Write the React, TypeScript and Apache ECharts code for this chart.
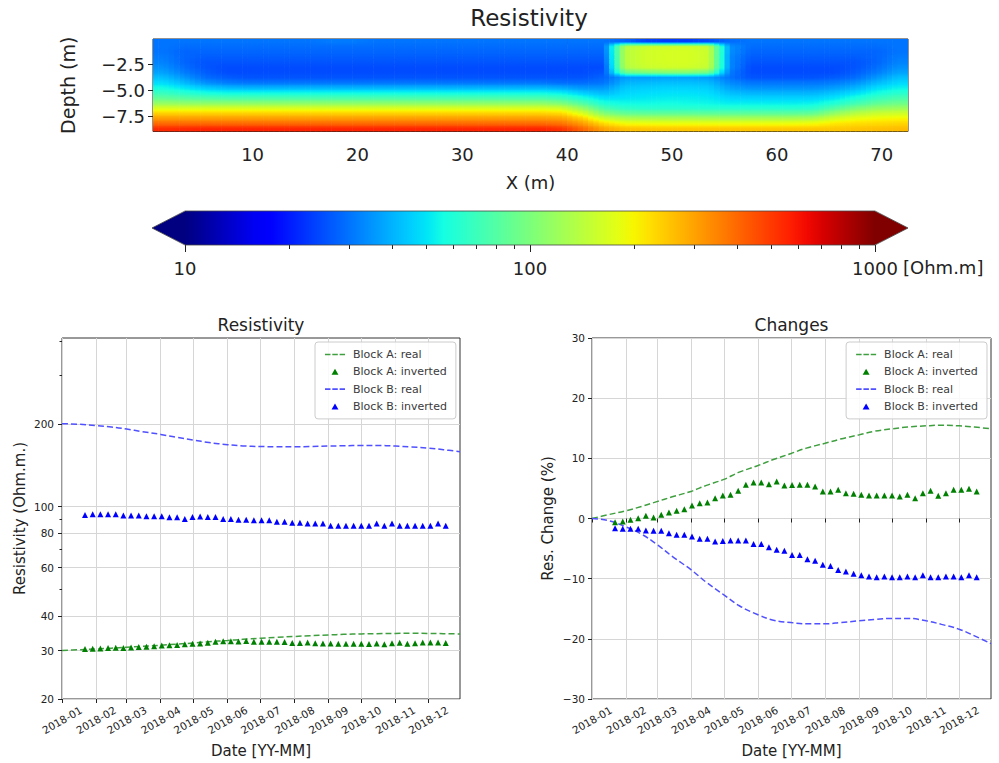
import React, { useEffect, useRef } from 'react';
import * as echarts from 'echarts';

// ---------------- data: top panel (resistivity section) ----------------
const SECTION_X = [1.5, 3.5, 5.5, 7.5, 9.5, 11.5, 13.5, 15.5, 17.5, 19.5, 21.5, 23.5, 25.5, 27.5, 29.5, 31.5, 33.5, 35.5,
  37.5, 39.5, 41.5, 43.5, 45.5, 47.5, 49.5, 51.5, 53.5, 55.5, 57.5, 59.5, 61.5, 63.5, 65.5, 67.5, 69.5, 71.5];
const SECTION_DEPTH = [-0.25, -0.75, -1.25, -1.75, -2.25, -2.75, -3.25, -3.75, -4.25, -4.75, -5.25, -5.75, -6.25, -6.75,
  -7.25, -7.75, -8.25, -8.75];
// one column (surface -> bottom) per SECTION_X entry, Ohm.m
const SECTION_RES: number[][] = [
  [30, 30, 30, 31, 32, 34, 37, 42, 48, 56, 68, 85, 115, 170, 240, 310, 400, 540],
  [30, 29, 28, 28, 28, 29, 31, 35, 41, 50, 62, 80, 112, 170, 240, 310, 400, 550],
  [30, 29, 28, 27, 26, 26, 27, 29, 34, 44, 57, 77, 110, 170, 240, 310, 400, 560],
  [30, 29, 28, 27, 26, 25, 25, 27, 31, 41, 55, 75, 110, 170, 240, 310, 400, 560],
  [30, 29, 28, 27, 26, 25, 25, 26, 30, 40, 55, 75, 110, 170, 240, 310, 400, 560],
  [30, 29, 28, 27, 26, 25, 25, 26, 30, 40, 55, 75, 110, 170, 240, 310, 400, 560],
  [30, 29, 28, 27, 26, 25, 25, 26, 30, 40, 55, 75, 110, 170, 240, 310, 400, 560],
  [30, 29, 28, 27, 26, 25, 25, 26, 30, 40, 55, 75, 110, 170, 240, 310, 400, 560],
  [31, 29, 28, 27, 26, 25, 25, 26, 30, 40, 55, 75, 110, 170, 240, 310, 400, 560],
  [31, 29, 28, 27, 26, 25, 25, 26, 30, 40, 55, 75, 110, 170, 240, 310, 400, 560],
  [30, 29, 28, 27, 26, 25, 25, 26, 30, 40, 55, 75, 110, 170, 240, 310, 400, 560],
  [30, 29, 28, 27, 26, 25, 25, 26, 30, 40, 55, 75, 110, 170, 240, 310, 400, 560],
  [30, 29, 28, 27, 26, 25, 25, 26, 30, 40, 55, 75, 110, 170, 240, 310, 400, 560],
  [30, 29, 28, 27, 26, 25, 25, 26, 30, 40, 55, 75, 110, 170, 240, 310, 400, 560],
  [30, 29, 28, 27, 26, 25, 25, 26, 30, 40, 55, 75, 110, 170, 240, 310, 400, 560],
  [30, 29, 28, 27, 26, 25, 25, 26, 30, 40, 55, 75, 110, 170, 240, 310, 400, 560],
  [30, 29, 28, 27, 26, 25, 25, 26, 30, 40, 55, 75, 110, 170, 240, 310, 400, 560],
  [30, 29, 28, 27, 26, 25, 25, 26, 30, 40, 55, 75, 110, 170, 240, 310, 400, 560],
  [30, 29, 28, 27, 26, 25, 25, 26, 30, 40, 55, 75, 110, 170, 240, 310, 400, 560],
  [30, 29, 28, 27, 26, 25, 25, 26, 29, 38, 52, 70, 100, 160, 230, 300, 380, 520],
  [30, 29, 28, 27, 26, 25, 25, 26, 29, 35, 45, 58, 78, 115, 170, 240, 310, 400],
  [30, 29, 28, 27, 26, 25, 26, 28, 30, 35, 41, 49, 58, 75, 105, 160, 230, 300],
  [28, 135, 140, 140, 140, 135, 90, 36, 40, 44, 47, 50, 55, 65, 88, 135, 195, 260],
  [24, 155, 160, 160, 160, 155, 100, 36, 41, 45, 48, 51, 55, 63, 86, 132, 192, 255],
  [23, 160, 165, 165, 165, 160, 105, 37, 42, 46, 49, 52, 56, 63, 86, 132, 190, 250],
  [23, 160, 165, 165, 165, 160, 105, 37, 42, 46, 49, 52, 55, 63, 86, 132, 190, 250],
  [25, 150, 155, 155, 155, 150, 95, 36, 41, 45, 48, 51, 54, 62, 85, 130, 190, 250],
  [29, 34, 34, 33, 33, 33, 31, 30, 33, 37, 42, 47, 52, 62, 85, 130, 190, 250],
  [30, 29, 28, 27, 26, 25, 25, 26, 30, 34, 40, 46, 52, 62, 85, 130, 190, 250],
  [30, 29, 28, 27, 26, 25, 25, 26, 30, 34, 40, 46, 52, 62, 85, 130, 190, 250],
  [30, 29, 28, 27, 26, 25, 25, 26, 30, 34, 40, 46, 52, 62, 85, 130, 190, 250],
  [30, 29, 28, 27, 26, 25, 25, 26, 30, 34, 40, 46, 53, 64, 88, 135, 195, 250],
  [30, 29, 28, 27, 26, 25, 25, 27, 31, 36, 43, 50, 60, 80, 115, 165, 215, 250],
  [30, 29, 28, 27, 26, 26, 27, 29, 34, 40, 48, 58, 72, 100, 140, 185, 225, 255],
  [30, 29, 28, 28, 28, 29, 31, 35, 41, 48, 56, 68, 85, 115, 155, 195, 230, 260],
  [30, 30, 30, 31, 32, 34, 37, 42, 47, 53, 62, 75, 92, 120, 160, 200, 235, 265],
];
const SECTION_X_TICKS = [10, 20, 30, 40, 50, 60, 70];
const SECTION_DEPTH_TICKS = [-7.5, -5, -2.5];
const CBAR_MAJOR = [10, 100, 1000];
const CBAR_MINOR = [20, 30, 40, 50, 60, 70, 80, 90, 200, 300, 400, 500, 600, 700, 800, 900];

// ---------------- data: bottom panels ----------------
const MONTH_TICKS = ['2018-01-01', '2018-02-01', '2018-03-01', '2018-04-01', '2018-05-01', '2018-06-01',
  '2018-07-01', '2018-08-01', '2018-09-01', '2018-10-01', '2018-11-01', '2018-12-01'];
const RES_TICKS_LABELED = [20, 30, 40, 60, 80, 100, 200];
const RES_TICKS_MINOR = [50, 70, 90, 300, 400];
const CHANGE_TICKS_MIN = -30;
const CHANGE_TICKS_MAX = 30;

const REAL_DATES = ['2018-01-01', '2018-01-15', '2018-02-01', '2018-02-15', '2018-03-01', '2018-03-15', '2018-04-01',
  '2018-04-15', '2018-05-01', '2018-05-15', '2018-06-01', '2018-06-15', '2018-07-01', '2018-07-15', '2018-08-01',
  '2018-08-15', '2018-09-01', '2018-09-15', '2018-10-01', '2018-10-15', '2018-11-01', '2018-11-15', '2018-12-01',
  '2018-12-15', '2018-12-30'];
const A_REAL_RES = [30.0, 30.18, 30.39, 30.6, 30.84, 31.08, 31.35, 31.65, 31.95, 32.31, 32.64, 32.94, 33.24, 33.51,
  33.75, 33.96, 34.17, 34.35, 34.47, 34.56, 34.62, 34.65, 34.62, 34.56, 34.47];
const B_REAL_RES = [200, 199.4, 197.2, 194.8, 191.4, 187.4, 183.0, 178.8, 174.6, 171.0, 168.0, 166.2, 165.4, 165.0,
  165.0, 165.4, 166.0, 166.4, 166.8, 166.8, 166.0, 164.8, 163.2, 161.0, 158.4];
const A_REAL_CHANGE = [0, 0.6, 1.3, 2.0, 2.8, 3.6, 4.5, 5.5, 6.5, 7.7, 8.8, 9.8, 10.8, 11.7, 12.5, 13.2, 13.9, 14.5,
  14.9, 15.2, 15.4, 15.5, 15.4, 15.2, 14.9];
const B_REAL_CHANGE = [0, -0.3, -1.4, -2.6, -4.3, -6.3, -8.5, -10.6, -12.7, -14.5, -16.0, -16.9, -17.3, -17.5, -17.5,
  -17.3, -17.0, -16.8, -16.6, -16.6, -17.0, -17.6, -18.4, -19.5, -20.8];

const INV_DATES = ['2018-01-22', '2018-01-29', '2018-02-05', '2018-02-12', '2018-02-19', '2018-02-26', '2018-03-05',
  '2018-03-12', '2018-03-19', '2018-03-26', '2018-04-02', '2018-04-09', '2018-04-16', '2018-04-23', '2018-04-30',
  '2018-05-07', '2018-05-14', '2018-05-21', '2018-05-28', '2018-06-04', '2018-06-11', '2018-06-18', '2018-06-25',
  '2018-07-02', '2018-07-09', '2018-07-16', '2018-07-23', '2018-07-30', '2018-08-06', '2018-08-13', '2018-08-20',
  '2018-08-27', '2018-09-03', '2018-09-10', '2018-09-17', '2018-09-24', '2018-10-01', '2018-10-08', '2018-10-15',
  '2018-10-22', '2018-10-29', '2018-11-05', '2018-11-12', '2018-11-19', '2018-11-26', '2018-12-03', '2018-12-10',
  '2018-12-17'];
const A_INV_RES = [30.41, 30.45, 30.53, 30.62, 30.73, 30.65, 30.79, 30.90, 30.99, 31.07, 31.26, 31.38, 31.41, 31.63,
  31.77, 31.80, 32.01, 32.31, 32.43, 32.43, 32.35, 32.48, 32.28, 32.30, 32.31, 32.31, 32.23, 31.97, 31.97, 32.06,
  31.89, 31.85, 31.80, 31.77, 31.77, 31.77, 31.77, 31.72, 31.80, 31.63, 31.89, 32.01, 31.75, 31.89, 32.06, 32.06,
  32.11, 31.97];
const B_INV_RES = [93.3, 93.8, 93.8, 93.8, 93.8, 92.8, 92.8, 92.8, 92.3, 92.3, 92.3, 91.5, 91.5, 90.2, 91.7, 92.0,
  91.7, 91.7, 90.2, 90.2, 89.7, 89.7, 89.2, 89.2, 89.2, 88.2, 88.2, 87.3, 87.3, 86.8, 86.8, 86.8, 85.3, 85.3, 85.3,
  85.3, 85.3, 85.3, 86.8, 85.3, 86.8, 85.3, 85.3, 85.3, 85.3, 85.3, 86.8, 85.3];
const A_INV_CHANGE = [-0.61, -0.5, -0.22, 0.05, 0.44, 0.16, 0.61, 0.99, 1.27, 1.55, 2.16, 2.55, 2.66, 3.38, 3.82, 3.93,
  4.6, 5.6, 5.98, 5.98, 5.71, 6.15, 5.49, 5.55, 5.6, 5.6, 5.32, 4.49, 4.49, 4.77, 4.21, 4.1, 3.93, 3.82, 3.82, 3.82,
  3.82, 3.66, 3.93, 3.38, 4.21, 4.6, 3.77, 4.21, 4.77, 4.77, 4.93, 4.49];
const B_INV_CHANGE = [-1.61, -1.72, -1.72, -1.72, -2.0, -2.05, -2.05, -2.44, -2.72, -2.72, -3.0, -3.38, -3.38, -3.83,
  -3.72, -3.66, -3.66, -3.66, -4.22, -4.22, -4.77, -5.21, -5.38, -6.05, -6.05, -6.77, -7.04, -7.7, -7.88, -8.54,
  -8.82, -9.2, -9.45, -9.65, -9.75, -9.65, -9.75, -9.75, -9.65, -9.75, -9.45, -9.75, -9.75, -9.65, -9.65, -9.75,
  -9.45, -9.75];

const NAMES = ['Block A: real', 'Block A: inverted', 'Block B: real', 'Block B: inverted'];

// ---------------- styling helpers ----------------
const FONT = 'DejaVu Sans';
const INK = '#222222';
const GRID_LINE = '#d6d6d6';
const GREEN = '#008000';
const GREEN_LINE = '#3f9f3f';
const BLUE = '#0000ff';
const BLUE_LINE = '#5050ff';
const DASH_ICON = 'path://M0,0H5.5V1.6H0Z M7.3,0H12.8V1.6H7.3Z M14.6,0H20V1.6H14.6Z';
const TRI_ICON = 'path://M5,0L10,8.66L0,8.66Z';
const CELL_W = 2;
const CELL_H = 0.5;
const SUB_STRIPS = [-0.375, -0.125, 0.125, 0.375];

const JET_R = [[0, 0], [0.35, 0], [0.66, 1], [0.89, 1], [1, 0.5]];
const JET_G = [[0, 0], [0.125, 0], [0.375, 1], [0.64, 1], [0.91, 0], [1, 0]];
const JET_B = [[0, 0.5], [0.11, 1], [0.34, 1], [0.65, 0], [1, 0]];
function seg(pts: number[][], t: number) {
  for (let i = 1; i < pts.length; i++) {
    if (t <= pts[i][0]) {
      const [x0, y0] = pts[i - 1];
      const [x1, y1] = pts[i];
      return y0 + ((y1 - y0) * (t - x0)) / (x1 - x0);
    }
  }
  return pts[pts.length - 1][1];
}
function jet(t: number) {
  const u = Math.max(0, Math.min(1, t));
  const c = (v: number) => Math.round(v * 255);
  return `rgb(${c(seg(JET_R, u))},${c(seg(JET_G, u))},${c(seg(JET_B, u))})`;
}
const resToT = (v: number) => (Math.log10(v) - 1) / 2;
const ts = (s: string) => Date.parse(s + 'T00:00:00Z');
const X_MIN = ts('2018-01-01');
const X_MAX = ts('2018-12-30');
const fmtMonth = (v: number) => {
  const d = new Date(v);
  return `${d.getUTCFullYear()}-${String(d.getUTCMonth() + 1).padStart(2, '0')}`;
};
const uminus = (s: string) => s.replace('-', '\u2212');

function dateAxis(gridIndex: number) {
  const ticks = MONTH_TICKS.map(ts);
  return {
    type: 'value',
    gridIndex,
    min: X_MIN,
    max: X_MAX,
    position: 'bottom',
    axisLine: { show: false },
    axisTick: { show: true, length: 4, customValues: ticks, lineStyle: { color: INK, width: 1 } },
    axisLabel: {
      customValues: ticks,
      formatter: fmtMonth,
      rotate: 30,
      align: 'center',
      verticalAlign: 'middle',
      margin: 21,
      fontSize: 10.5,
      color: INK,
      fontFamily: FONT,
    },
    splitLine: { show: true, lineStyle: { color: GRID_LINE, width: 1 } },
    name: 'Date [YY-MM]',
    nameLocation: 'middle',
    nameGap: 44,
    nameMoveOverlap: false,
    nameTextStyle: { fontSize: 15, color: INK, fontFamily: FONT },
  };
}

function legendAt(pos: Record<string, number>) {
  return {
    ...pos,
    orient: 'vertical',
    itemWidth: 20,
    itemHeight: 6,
    itemGap: 4.3,
    padding: [6, 9, 6, 10],
    backgroundColor: 'rgba(255,255,255,0.85)',
    borderColor: '#cccccc',
    borderWidth: 1,
    borderRadius: 3,
    selectedMode: false,
    symbolKeepAspect: true,
    textStyle: { fontSize: 11, lineHeight: 13, color: '#3a3a3a', fontFamily: FONT, padding: [0, 0, 0, 3] },
    data: [
      { name: NAMES[0], icon: DASH_ICON },
      { name: NAMES[1], icon: TRI_ICON },
      { name: NAMES[2], icon: DASH_ICON },
      { name: NAMES[3], icon: TRI_ICON },
    ],
  };
}

function buildOption() {
  const log = Math.log10;
  // cell table for the section: x, depth, resistivity, column index, row index
  const heatData: number[][] = [];
  SECTION_X.forEach((x, i) => {
    SECTION_DEPTH.forEach((d, j) => heatData.push([x, d, SECTION_RES[i][j], i, j]));
  });
  const nCol = SECTION_RES.length;
  const nRow = SECTION_DEPTH.length;
  const cellT = (i: number, j: number) =>
    resToT(SECTION_RES[Math.max(0, Math.min(nCol - 1, i))][Math.max(0, Math.min(nRow - 1, j))]);
  const cbarStops = Array.from({ length: 41 }, (_, k) => ({ offset: k / 40, color: jet(k / 40) }));

  const resLine = (name: string, vals: number[], color: string) => ({
    type: 'line', name, xAxisIndex: 3, yAxisIndex: 2, smooth: 0.4, symbol: 'none', z: 3,
    data: REAL_DATES.map((d, i) => [ts(d), log(vals[i])]),
    lineStyle: { color, width: 1.5, type: [6, 3] }, itemStyle: { color },
  });
  const resPts = (name: string, vals: number[], color: string) => ({
    type: 'scatter', name, xAxisIndex: 3, yAxisIndex: 2, symbol: 'triangle', symbolSize: 6, z: 4,
    data: INV_DATES.map((d, i) => [ts(d), log(vals[i])]),
    itemStyle: { color, opacity: 1 },
  });
  const chgLine = (name: string, vals: number[], color: string) => ({
    type: 'line', name, xAxisIndex: 4, yAxisIndex: 4, smooth: 0.4, symbol: 'none', z: 3,
    data: REAL_DATES.map((d, i) => [ts(d), vals[i]]),
    lineStyle: { color, width: 1.5, type: [6, 3] }, itemStyle: { color },
  });
  const chgPts = (name: string, vals: number[], color: string) => ({
    type: 'scatter', name, xAxisIndex: 4, yAxisIndex: 4, symbol: 'triangle', symbolSize: 6, z: 4,
    data: INV_DATES.map((d, i) => [ts(d), vals[i]]),
    itemStyle: { color, opacity: 1 },
  });

  const frame = { show: true, borderColor: '#333333', borderWidth: 1, backgroundColor: 'transparent', containLabel: false, outerBoundsMode: 'none' };

  return {
    animation: false,
    backgroundColor: '#ffffff',
    textStyle: { fontFamily: FONT },
    title: [
      { text: 'Resistivity', left: 529, top: 6, textAlign: 'center', padding: 0, textStyle: { fontSize: 23, fontWeight: 'normal', color: INK, fontFamily: FONT } },
      { text: 'Resistivity', left: 261, top: 316, textAlign: 'center', padding: 0, textStyle: { fontSize: 17, fontWeight: 'normal', color: INK, fontFamily: FONT } },
      { text: 'Changes', left: 791.5, top: 316, textAlign: 'center', padding: 0, textStyle: { fontSize: 17, fontWeight: 'normal', color: INK, fontFamily: FONT } },
    ],
    legend: [legendAt({ left: 315, top: 342 }), legendAt({ right: 12, top: 342 })],
    grid: [
      { ...frame, left: 153, top: 39, width: 755, height: 92.5, borderColor: '#222222' },
      { ...frame, show: false, left: 185, top: 211, width: 690, height: 34 },
      { ...frame, left: 62, top: 338, width: 398, height: 361 },
      { ...frame, left: 592, top: 338, width: 399, height: 361 },
    ],
    xAxis: [
      {
        type: 'value', gridIndex: 0, min: 0.5, max: 72.5, position: 'bottom',
        axisLine: { show: false },
        axisTick: { length: 5, customValues: SECTION_X_TICKS, lineStyle: { color: INK } },
        axisLabel: { customValues: SECTION_X_TICKS, fontSize: 18, margin: 14, color: INK, fontFamily: FONT },
        splitLine: { show: false },
        name: 'X (m)', nameLocation: 'middle', nameGap: 42, nameMoveOverlap: false,
        nameTextStyle: { fontSize: 18, color: INK, fontFamily: FONT },
      },
      {
        type: 'value', gridIndex: 1, min: 1, max: 3, position: 'bottom',
        axisLine: { show: false },
        axisTick: { length: 7, customValues: CBAR_MAJOR.map(log), lineStyle: { color: INK } },
        axisLabel: {
          customValues: CBAR_MAJOR.map(log), formatter: (v: number) => String(Math.round(Math.pow(10, v))),
          fontSize: 18, margin: 14, color: INK, fontFamily: FONT,
        },
        splitLine: { show: false },
      },
      {
        type: 'value', gridIndex: 1, min: 1, max: 3, position: 'bottom',
        axisLine: { show: false },
        axisTick: { length: 4, customValues: CBAR_MINOR.map(log), lineStyle: { color: INK } },
        axisLabel: { show: false },
        splitLine: { show: false },
      },
      dateAxis(2),
      dateAxis(3),
    ],
    yAxis: [
      {
        type: 'value', gridIndex: 0, min: -9, max: 0, position: 'left',
        axisLine: { show: false },
        axisTick: { length: 5, customValues: SECTION_DEPTH_TICKS, lineStyle: { color: INK } },
        axisLabel: {
          customValues: SECTION_DEPTH_TICKS, formatter: (v: number) => uminus(v.toFixed(1)),
          fontSize: 18, margin: 8, color: INK, fontFamily: FONT,
        },
        splitLine: { show: false },
        name: 'Depth (m)', nameLocation: 'middle', nameRotate: 90, nameGap: 76, nameMoveOverlap: false,
        nameTextStyle: { fontSize: 19, color: INK, fontFamily: FONT },
      },
      { type: 'value', gridIndex: 1, min: 0, max: 1, show: false },
      {
        type: 'value', gridIndex: 2, min: log(20), max: log(410), position: 'left',
        axisLine: { show: false },
        axisTick: { length: 4, customValues: RES_TICKS_LABELED.map(log), lineStyle: { color: INK } },
        axisLabel: {
          customValues: RES_TICKS_LABELED.map(log), formatter: (v: number) => String(Math.round(Math.pow(10, v))),
          fontSize: 10.5, margin: 8, color: INK, fontFamily: FONT,
        },
        splitLine: { show: true, lineStyle: { color: GRID_LINE, width: 1 } },
        name: 'Resistivity (Ohm.m.)', nameLocation: 'middle', nameRotate: 90, nameGap: 35, nameMoveOverlap: false,
        nameTextStyle: { fontSize: 15, color: INK, fontFamily: FONT },
      },
      {
        type: 'value', gridIndex: 2, min: log(20), max: log(410), position: 'left',
        axisLine: { show: false },
        axisTick: { length: 2.5, customValues: RES_TICKS_MINOR.map(log), lineStyle: { color: INK } },
        axisLabel: { show: false },
        splitLine: { show: false },
      },
      {
        type: 'value', gridIndex: 3, min: CHANGE_TICKS_MIN, max: CHANGE_TICKS_MAX, interval: 10, position: 'left',
        axisLine: { show: false },
        axisTick: { length: 4, lineStyle: { color: INK } },
        axisLabel: { formatter: (v: number) => uminus(String(v)), fontSize: 10.5, margin: 7, color: INK, fontFamily: FONT },
        splitLine: { show: true, lineStyle: { color: GRID_LINE, width: 1 } },
        name: 'Res. Change (%)', nameLocation: 'middle', nameRotate: 90, nameGap: 37, nameMoveOverlap: false,
        nameTextStyle: { fontSize: 15, color: INK, fontFamily: FONT },
      },
    ],
    graphic: [
      { type: 'text', left: 903, top: 258, silent: true, style: { text: '[Ohm.m]', fontSize: 18, fontFamily: FONT, fill: INK } },
    ],
    series: [
      {
        type: 'custom', name: 'section', xAxisIndex: 0, yAxisIndex: 0, clip: true, silent: true,
        encode: { x: 0, y: 1 },
        data: heatData,
        renderItem: (_p: any, api: any) => {
          const x = api.value(0);
          const d = api.value(1);
          const i = api.value(3);
          const j = api.value(4);
          const p0 = api.coord([x - CELL_W / 2, d + CELL_H / 2]);
          const p1 = api.coord([x + CELL_W / 2, d - CELL_H / 2]);
          const w = (p1[0] - p0[0]) / SUB_STRIPS.length;
          // drawn like a bilinear-interpolated image: each cell is painted in strips whose
          // colour ramps toward the neighbouring cells
          const children = SUB_STRIPS.map((u, k) => {
            const n = u < 0 ? i - 1 : i + 1;
            const wt = Math.abs(u);
            const tAt = (jj: number) => (1 - wt) * cellT(i, jj) + wt * cellT(n, jj);
            const tC = tAt(j);
            const tTop = (tC + tAt(j - 1)) / 2;
            const tBot = (tC + tAt(j + 1)) / 2;
            const stops = [0, 0.25, 0.5, 0.75, 1].map((o) => {
              const t = o <= 0.5 ? tTop + (tC - tTop) * (o / 0.5) : tC + (tBot - tC) * ((o - 0.5) / 0.5);
              return { offset: o, color: jet(t) };
            });
            return {
              type: 'rect',
              shape: { x: p0[0] + k * w, y: p0[1] - 0.35, width: w + 0.6, height: p1[1] - p0[1] + 0.7 },
              style: { fill: new echarts.graphic.LinearGradient(0, 0, 0, 1, stops) },
            };
          });
          return { type: 'group', children };
        },
      },
      {
        type: 'custom', name: 'colorbar', xAxisIndex: 1, yAxisIndex: 1, clip: false, silent: true,
        encode: { x: 0, y: 1 },
        data: [[1, 0]],
        renderItem: (_p: any, api: any) => {
          const a = api.coord([1, 0]);
          const b = api.coord([3, 1]);
          const x0 = a[0], x1 = b[0], yb = a[1], yt = b[1], ym = (yb + yt) / 2;
          const ext = 33;
          return {
            type: 'group',
            children: [
              { type: 'rect', shape: { x: x0, y: yt, width: x1 - x0, height: yb - yt }, style: { fill: new echarts.graphic.LinearGradient(0, 0, 1, 0, cbarStops) } },
              { type: 'polygon', shape: { points: [[x0 + 0.5, yt], [x0 - ext, ym], [x0 + 0.5, yb]] }, style: { fill: jet(0) } },
              { type: 'polygon', shape: { points: [[x1 - 0.5, yt], [x1 + ext, ym], [x1 - 0.5, yb]] }, style: { fill: jet(1) } },
              { type: 'polygon', shape: { points: [[x0, yt], [x1, yt], [x1 + ext, ym], [x1, yb], [x0, yb], [x0 - ext, ym]] }, style: { fill: 'none', stroke: '#444444', lineWidth: 0.8 } },
            ],
          };
        },
      },
      resLine(NAMES[0], A_REAL_RES, GREEN_LINE),
      resPts(NAMES[1], A_INV_RES, GREEN),
      resLine(NAMES[2], B_REAL_RES, BLUE_LINE),
      resPts(NAMES[3], B_INV_RES, BLUE),
      chgLine(NAMES[0], A_REAL_CHANGE, GREEN_LINE),
      chgPts(NAMES[1], A_INV_CHANGE, GREEN),
      chgLine(NAMES[2], B_REAL_CHANGE, BLUE_LINE),
      chgPts(NAMES[3], B_INV_CHANGE, BLUE),
    ],
  };
}

export default function App() {
  const ref = useRef<HTMLDivElement>(null);
  useEffect(() => {
    if (!ref.current) return undefined;
    const chart = echarts.init(ref.current, undefined, { renderer: 'svg' });
    chart.setOption(buildOption() as any);
    return () => chart.dispose();
  }, []);
  return (
    <div
      ref={ref}
      style={{ position: 'fixed', left: 0, top: 0, width: 999, height: 763, background: '#ffffff' }}
    />
  );
}
